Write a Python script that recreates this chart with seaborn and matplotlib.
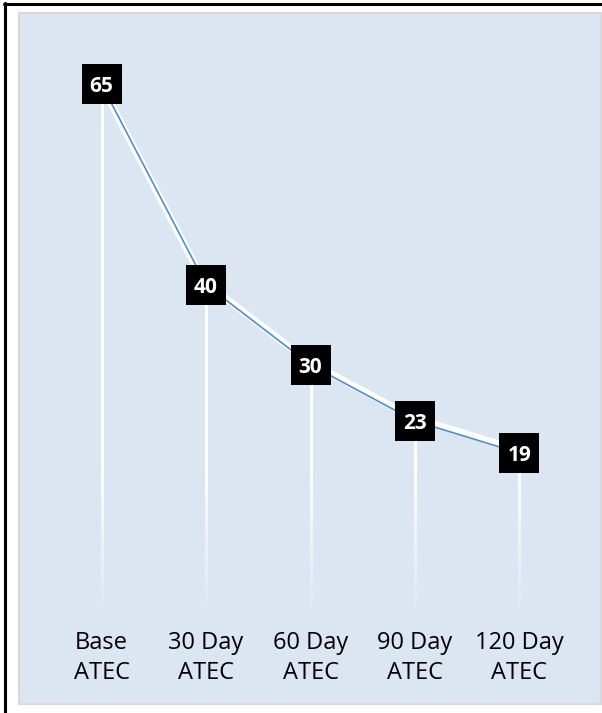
import numpy as np
import pandas as pd
import matplotlib.pyplot as plt
import matplotlib.transforms as mtransforms
from matplotlib.lines import Line2D
import seaborn as sns

# ATEC scores over time
stages = ["Base\nATEC", "30 Day\nATEC", "60 Day\nATEC", "90 Day\nATEC", "120 Day\nATEC"]
scores = [65, 40, 30, 23, 19]

sns.set_theme(style="white")
plt.rcParams["font.family"] = ["Open Sans", "DejaVu Sans"]

df = pd.DataFrame({"pos": np.arange(len(stages)), "score": scores})

fig = plt.figure(figsize=(6.02, 7.13), dpi=100)
fig.patch.set_facecolor("white")
ax = fig.add_axes([19 / 602, 1 - 704 / 713, 582 / 602, 691 / 713])
ax.set_facecolor("#DCE6F2")
for sp in ax.spines.values():
    sp.set_color("#D9D9D9")
    sp.set_linewidth(1.5)

# drop lines, fading out towards the bottom
fade_top = 16
ax.vlines(df["pos"], fade_top, df["score"], color="white", lw=2.2, zorder=1)
steps = 16
for k in range(steps):
    lo = fade_top * k / steps
    hi = fade_top * (k + 1) / steps
    ax.vlines(df["pos"], lo, hi, color="white", lw=2.2,
              alpha=0.05 + 0.9 * (k + 0.5) / steps, zorder=1)

# white band slightly up-left of the blue line
shift = mtransforms.ScaledTranslation(-1.8 / 72, 2.6 / 72, fig.dpi_scale_trans)
ax.plot(df["pos"].to_numpy(), df["score"].to_numpy(), color="white", linewidth=5,
        zorder=2, transform=ax.transData + shift)
sns.lineplot(data=df, x="pos", y="score", color="#4F8FD0", lw=1.2, ax=ax, zorder=2.1)

# black value boxes
sns.scatterplot(data=df, x="pos", y="score", marker="s", s=810, color="black",
                linewidth=0, zorder=3, ax=ax, legend=False)
for x, v in zip(df["pos"], df["score"]):
    ax.text(x, v, str(v), ha="center", va="center_baseline", color="white",
            fontweight="bold", fontsize=15, zorder=4)

# category labels inside the panel
for x, lab in zip(df["pos"], stages):
    ax.text(x, -3.2, lab, ha="center", va="top", fontsize=17, color="black",
            linespacing=1.35)

ax.set_xlim(-0.79, 4.78)
ax.set_ylim(-12.3, 73.9)
ax.set_xticks([])
ax.set_yticks([])
ax.set_xlabel("")
ax.set_ylabel("")

# outer frame (top and left edges only)
fig.add_artist(Line2D([4 / 602, 1], [1 - 4 / 713, 1 - 4 / 713], color="black", lw=2.2,
                      transform=fig.transFigure))
fig.add_artist(Line2D([5 / 602, 5 / 602], [0, 1 - 3 / 713], color="black", lw=2.2,
                      transform=fig.transFigure))

fig.savefig("out.png", dpi=100)
